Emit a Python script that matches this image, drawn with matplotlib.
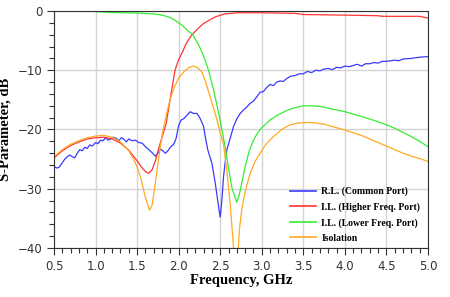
#!/usr/bin/env python3

import matplotlib
matplotlib.use('Agg')
import matplotlib.pyplot as plt
from matplotlib.ticker import MultipleLocator

# R.L. (Common Port)
f_rl = [0.5, 0.53, 0.56, 0.6, 0.63, 0.66, 0.69, 0.72, 0.75, 0.78, 0.81, 0.84, 0.87, 0.9, 0.93,
        0.96, 1.0, 1.03, 1.06, 1.09, 1.12, 1.15, 1.18, 1.21, 1.25, 1.28, 1.31, 1.34, 1.37, 1.4,
        1.44, 1.48, 1.52, 1.56, 1.6, 1.64, 1.68, 1.72, 1.75, 1.78, 1.81, 1.84, 1.87, 1.9, 1.94,
        1.97, 2.0, 2.03, 2.06, 2.1, 2.14, 2.18, 2.22, 2.25, 2.28, 2.3, 2.32, 2.35, 2.4, 2.44,
        2.48, 2.5, 2.52, 2.54, 2.56, 2.58, 2.62, 2.66, 2.7, 2.74, 2.78, 2.82, 2.86, 2.9, 2.94,
        2.98, 3.02, 3.06, 3.1, 3.14, 3.18, 3.22, 3.26, 3.3, 3.35, 3.4, 3.45, 3.5, 3.55, 3.6,
        3.65, 3.7, 3.75, 3.8, 3.85, 3.9, 3.95, 4.0, 4.05, 4.1, 4.15, 4.2, 4.25, 4.3, 4.35,
        4.4, 4.45, 4.5, 4.6, 4.65, 4.7, 4.8, 4.9, 5.0]
s_rl = [-26.2, -26.5, -26.4, -25.6, -25.0, -24.6, -24.3, -24.6, -24.8, -24.0, -23.4, -23.6, -23.0, -23.2, -22.6,
        -22.8, -22.2, -22.4, -21.8, -21.9, -21.4, -21.8, -21.6, -21.3, -21.5, -21.9, -21.4, -21.6, -22.1, -21.6,
        -21.9, -21.8, -22.2, -22.3, -22.9, -23.4, -23.9, -24.5, -24.0, -23.3, -23.6, -24.0, -23.6, -23.0, -22.5,
        -21.5, -19.3, -18.4, -18.2, -17.6, -17.0, -17.3, -17.3, -17.9, -18.8, -19.5, -21.2, -23.4, -25.7, -29.0,
        -33.0, -34.8, -32.0, -28.0, -25.5, -23.4, -21.5, -19.5, -18.2, -17.3, -16.7, -16.2, -15.6, -15.2, -14.5,
        -13.7, -13.6, -12.9, -12.4, -12.6, -12.0, -11.8, -11.9, -11.4, -11.0, -10.9, -10.6, -10.6, -10.2, -10.4,
        -10.0, -10.1, -9.8, -9.7, -9.9, -9.5, -9.6, -9.3, -9.4, -9.2, -9.0, -9.3, -8.9, -8.9, -8.7,
        -8.8, -8.5, -8.5, -8.3, -8.4, -8.1, -8.0, -7.8, -7.7]

# I.L. (Higher Freq. Port)
f_hi = [0.5, 0.6, 0.7, 0.8, 0.9, 1.0, 1.1, 1.2, 1.3, 1.4, 1.5, 1.55, 1.6, 1.64, 1.68, 1.72,
        1.76, 1.8, 1.85, 1.9, 1.956, 2.0, 2.05, 2.09, 2.16, 2.23, 2.3, 2.44, 2.55, 2.7, 3.0,
        3.4, 3.5, 4.0, 4.4, 4.45, 4.9, 5.0]
s_hi = [-24.8, -23.6, -22.7, -22.1, -21.6, -21.4, -21.3, -21.6, -22.3, -23.5, -25.3, -26.3, -27.1, -27.4, -26.8, -25.3,
        -23.2, -21.3, -19.0, -14.7, -10.0, -8.2, -6.8, -5.5, -4.0, -3.0, -2.1, -1.0, -0.5, -0.3, -0.3,
        -0.4, -0.6, -0.7, -0.8, -0.9, -0.9, -1.2]

# I.L. (Lower Freq. Port)
f_lo = [0.5, 0.8, 1.0, 1.2, 1.5, 1.7, 1.8, 1.9, 1.95, 2.0, 2.05, 2.1, 2.17, 2.25, 2.3, 2.36,
        2.42, 2.47, 2.52, 2.56, 2.6, 2.64, 2.7, 2.73, 2.76, 2.8, 2.85, 2.9, 2.95, 3.0, 3.1,
        3.2, 3.3, 3.4, 3.5, 3.6, 3.7, 3.8, 3.9, 4.0, 4.2, 4.4, 4.5, 4.6, 4.7, 4.8, 4.9, 5.0]
s_lo = [0.0, -0.05, -0.1, -0.25, -0.35, -0.5, -0.7, -1.1, -1.5, -2.0, -2.5, -3.2, -4.0, -6.0, -7.6, -10.0,
        -13.3, -16.5, -20.0, -23.0, -26.5, -29.8, -32.3, -31.0, -29.0, -26.3, -23.6, -21.8, -20.6, -19.7, -18.4,
        -17.5, -16.8, -16.3, -16.0, -16.0, -16.1, -16.4, -16.7, -17.0, -17.8, -18.7, -19.2, -19.8, -20.5, -21.2, -22.0, -22.9]

# Isolation
f_iso = [0.5, 0.6, 0.7, 0.8, 0.9, 1.0, 1.1, 1.2, 1.3, 1.4, 1.45, 1.5, 1.55, 1.6, 1.65, 1.68,
         1.72, 1.76, 1.8, 1.83, 1.86, 1.9, 1.95, 2.0, 2.08, 2.13, 2.18, 2.23, 2.28, 2.33, 2.4,
         2.45, 2.49, 2.54, 2.58, 2.62, 2.65, 2.67, 2.71, 2.73, 2.76, 2.8, 2.86, 2.92, 2.98, 3.05,
         3.14, 3.24, 3.34, 3.45, 3.55, 3.65, 3.75, 3.85, 4.0, 4.2, 4.4, 4.5, 4.6, 4.7, 4.8, 4.9, 5.0]
s_iso = [-24.6, -23.4, -22.5, -21.9, -21.4, -21.1, -21.0, -21.3, -22.1, -23.6, -24.8, -26.3, -28.5, -31.5, -33.6, -32.8,
         -29.0, -24.8, -21.0, -19.0, -17.0, -14.8, -12.8, -11.3, -10.0, -9.5, -9.3, -9.6, -10.3, -12.2, -15.5,
         -17.8, -20.0, -22.5, -27.0, -32.5, -38.0, -42.0, -42.0, -37.0, -33.5, -30.5, -27.4, -25.4, -24.0, -22.5,
         -21.2, -20.0, -19.2, -18.9, -18.8, -18.9, -19.1, -19.5, -20.1, -21.0, -22.2, -22.8, -23.4, -24.0, -24.5, -24.9, -25.4]


def plot_results():
	fig = plt.figure(figsize=(4.5, 2.97), dpi=100)
	ax = fig.add_axes([0.12, 0.165, 0.831, 0.798])

	ax.plot(f_rl, s_rl, color='#3a3aff', lw=0.9, label='R.L. (Common Port)')
	ax.plot(f_hi, s_hi, color='#ff3333', lw=0.9, label='I.L. (Higher Freq. Port)')
	ax.plot(f_lo, s_lo, color='#33ee33', lw=0.9, label='I.L. (Lower Freq. Port)')
	ax.plot(f_iso, s_iso, color='#ffaa22', lw=0.9, label='Isolation')

	ax.set_xlim([0.5, 5.0])
	ax.set_ylim([-40, 0])
	ax.xaxis.set_major_locator(MultipleLocator(0.5))
	ax.xaxis.set_minor_locator(MultipleLocator(0.1))
	ax.yaxis.set_major_locator(MultipleLocator(10))
	ax.yaxis.set_minor_locator(MultipleLocator(2))
	ax.xaxis.set_major_formatter(matplotlib.ticker.FormatStrFormatter('%.1f'))
	ax.tick_params(which='major', direction='out', length=5, width=0.8, labelsize=8.5, colors='#333333')
	ax.tick_params(which='minor', direction='out', length=3.5, width=0.8, colors='#333333')
	ax.grid(which='major', color='#d4d4d4', lw=1)
	ax.set_axisbelow(True)
	for sp in ax.spines.values():
		sp.set_color('#333333')

	ax.set_xlabel('Frequency, GHz', fontfamily='Liberation Serif', fontweight='bold', fontsize=10.5, labelpad=1)
	ax.set_ylabel('S-Parameter, dB', fontfamily='Liberation Serif', fontweight='bold', fontsize=10.5, labelpad=4)

	leg = ax.legend(loc='lower right', bbox_to_anchor=(1.0, -0.01), frameon=False, handlelength=2.7,
			handletextpad=0.5, labelspacing=0.62, borderaxespad=0.4,
			prop={'family': 'Liberation Serif', 'weight': 'bold', 'size': 7})
	for line in leg.get_lines():
		line.set_linewidth(1.2)

	fig.savefig('out.png', dpi=100)


if __name__ == '__main__':
	plot_results()
